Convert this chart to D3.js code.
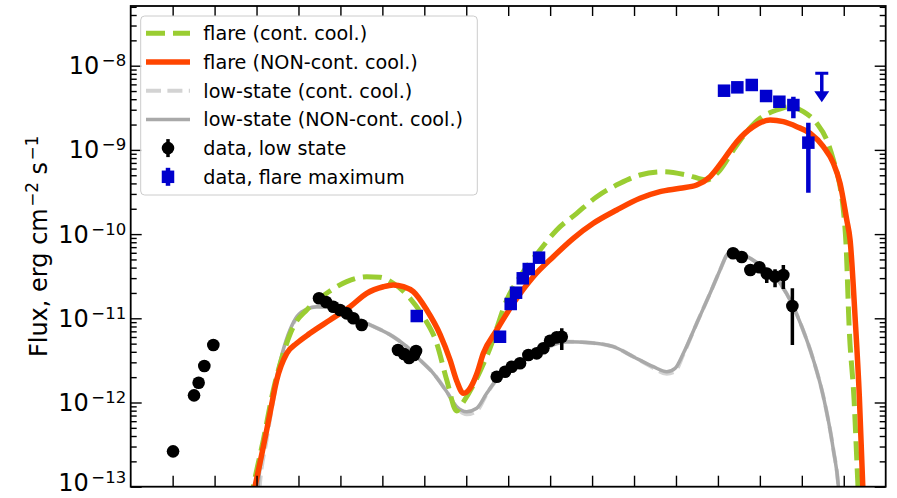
<!DOCTYPE html>
<html>
<head>
<meta charset="utf-8">
<script src="https://cdn.jsdelivr.net/npm/d3@7"></script>
<style>
  body { margin: 0; background: #fff; }
  svg { display: block; }
  text { font-family: "DejaVu Sans", sans-serif; fill: #000; }
</style>
</head>
<body>
<svg id="chart" width="897" height="498"></svg>
<script>
// Broadband SED: frequency as log10(nu / Hz), flux as log10(nu F_nu / erg cm^-2 s^-1)

// Model: flare, continuous cooling
const flareContNu = [10.85, 10.923, 11.162, 11.40, 11.639, 11.877, 12.196, 12.673, 13.15, 13.627, 13.944, 14.261, 14.66, 14.977, 15.296, 15.535, 15.773, 15.899, 16.169, 16.567, 16.965, 17.282, 17.759, 18.157, 18.634, 19.111, 19.667, 20.143, 20.699, 21.257, 21.734, 22.051, 22.368, 22.688, 23.005, 23.403, 23.72, 24.037, 24.357, 24.595, 24.753, 24.912, 24.991, 25.055, 25.127, 25.246, 25.33, 25.354];
const flareContF  = [-13.2, -13.0, -12.445, -11.852, -11.416, -11.10, -10.901, -10.703, -10.565, -10.506, -10.513, -10.584, -10.762, -10.981, -11.297, -11.733, -12.101, -12.018, -11.792, -11.353, -10.783, -10.506, -10.189, -9.951, -9.753, -9.556, -9.397, -9.298, -9.259, -9.298, -9.357, -9.239, -9.001, -8.784, -8.625, -8.526, -8.487, -8.546, -8.684, -8.882, -9.12, -9.437, -9.714, -10.129, -11.091, -11.97, -12.897, -13.16];

// Model: flare, non-continuous cooling
const flareNonContNu = [10.92, 10.964, 11.162, 11.321, 11.481, 11.72, 11.958, 12.275, 12.752, 13.229, 13.627, 14.023, 14.261, 14.50, 14.738, 15.058, 15.375, 15.613, 15.773, 15.93, 16.09, 16.25, 16.407, 16.727, 17.123, 17.599, 18.076, 18.553, 19.03, 19.588, 20.143, 20.62, 21.097, 21.495, 21.813, 22.13, 22.449, 22.845, 23.243, 23.56, 23.88, 24.197, 24.514, 24.753, 24.912, 25.072, 25.151, 25.27, 25.372, 25.454, 25.48];
const flareNonContF  = [-13.1, -13.0, -12.525, -12.128, -11.733, -11.416, -11.297, -11.178, -11.02, -10.862, -10.703, -10.625, -10.604, -10.625, -10.684, -10.901, -11.19, -11.495, -11.745, -11.891, -11.831, -11.662, -11.416, -11.139, -10.822, -10.506, -10.268, -10.05, -9.872, -9.714, -9.575, -9.496, -9.456, -9.417, -9.318, -9.12, -8.903, -8.724, -8.645, -8.665, -8.724, -8.803, -8.962, -9.159, -9.397, -9.833, -10.07, -10.985, -11.935, -13.0, -13.3];

// Model: low state, continuous cooling
const lowContNu = [11.03, 11.075, 11.24, 11.40, 11.58, 11.77, 11.95, 12.16, 12.435, 12.75, 13.11, 13.627, 14.261, 14.581, 14.898, 15.215, 15.535, 15.773, 16.011, 16.25, 16.488, 16.686, 17.1, 17.521, 18.0, 18.396, 18.951, 19.507, 19.984, 20.461, 20.78, 20.978, 21.176, 21.495, 21.813, 22.051, 22.211, 22.33, 22.6, 23.005, 23.482, 23.799, 23.999, 24.276, 24.514, 24.753, 24.872, 24.91];
const lowContF  = [-13.3, -13.0, -12.445, -11.97, -11.519, -11.198, -10.996, -10.901, -10.862, -10.87, -10.937, -11.059, -11.219, -11.337, -11.495, -11.653, -11.872, -12.06, -12.14, -12.10, -11.9, -11.753, -11.58, -11.44, -11.33, -11.278, -11.29, -11.337, -11.456, -11.59, -11.66, -11.63, -11.43, -11.059, -10.703, -10.426, -10.248, -10.189, -10.24, -10.367, -10.584, -10.862, -11.10, -11.495, -11.931, -12.564, -13.0, -13.28];

// Model: low state, non-continuous cooling
const lowNonContNu = [10.99, 11.035, 11.202, 11.369, 11.56, 11.751, 11.941, 12.156, 12.435, 12.75, 13.11, 13.627, 14.261, 14.581, 14.898, 15.215, 15.535, 15.773, 16.011, 16.25, 16.488, 16.686, 17.1, 17.521, 18.0, 18.396, 18.951, 19.507, 19.984, 20.461, 20.78, 20.978, 21.176, 21.495, 21.813, 22.051, 22.211, 22.33, 22.6, 23.005, 23.482, 23.799, 23.999, 24.276, 24.514, 24.753, 24.872, 24.91];
const lowNonContF  = [-13.3, -13.0, -12.445, -11.97, -11.519, -11.198, -10.996, -10.901, -10.862, -10.87, -10.937, -11.059, -11.219, -11.337, -11.495, -11.653, -11.872, -12.05, -12.109, -12.069, -11.891, -11.753, -11.58, -11.44, -11.33, -11.278, -11.29, -11.337, -11.456, -11.575, -11.634, -11.594, -11.416, -11.059, -10.703, -10.426, -10.248, -10.189, -10.24, -10.367, -10.584, -10.862, -11.10, -11.495, -11.931, -12.564, -13.0, -13.28];

// Observations, low state (radio, IR, optical, X-ray, gamma)
const lowDataNu = [9.01, 9.51, 9.62, 9.755, 9.97,
  12.49, 12.657, 12.83, 12.99, 13.15, 13.307, 13.508,
  14.373, 14.516, 14.636, 14.755, 14.803,
  16.727, 16.925, 17.085, 17.282, 17.48, 17.68, 17.838, 17.998, 18.157, 18.277,
  22.361, 22.568, 22.773, 22.988, 23.164, 23.362, 23.56, 23.775];
const lowDataF = [-12.58, -11.915, -11.765, -11.567, -11.317,
  -10.762, -10.806, -10.862, -10.901, -10.941, -11.0, -11.08,
  -11.376, -11.424, -11.471, -11.436, -11.388,
  -11.694, -11.634, -11.575, -11.534, -11.436, -11.416, -11.356, -11.266, -11.226, -11.219,
  -10.228, -10.272, -10.426, -10.394, -10.468, -10.504, -10.486, -10.854];
const lowDataErrLo = [null, null, null, null, null,
  null, null, null, null, null, null, null,
  null, null, null, null, null,
  null, null, null, null, null, null, null, null, null, -11.376,
  null, null, null, null, -10.58, -10.632, -10.652, -11.317];
const lowDataErrHi = [null, null, null, null, null,
  null, null, null, null, null, null, null,
  null, null, null, null, null,
  null, null, null, null, null, null, null, null, null, -11.119,
  null, null, null, null, -10.426, -10.418, -10.367, -10.644];

// Observations, flare maximum (UV, X-ray, gamma)
const flareDataNu = [14.82, 16.805, 17.06, 17.187, 17.347, 17.49, 17.735, 22.146, 22.463, 22.807, 23.148, 23.465, 23.799, 24.156];
const flareDataF  = [-10.973, -11.219, -10.83, -10.696, -10.525, -10.415, -10.28, -8.297, -8.257, -8.229, -8.36, -8.428, -8.467, -8.914];
const flareDataErrLo = [null, null, null, null, null, null, null, null, null, null, null, null, -8.625, -9.508];
const flareDataErrHi = [null, null, null, null, null, null, null, null, null, null, null, null, -8.368, -8.677];
// Flare upper limit
const flareUlNu = [24.476];
const flareUlF  = [-8.09];

// Axis ticks
const xTickExps = d3.range(9, 26);
const yTickExps = [-13, -12, -11, -10, -9, -8];

const legendLabels = [
  "flare (cont. cool.)",
  "flare (NON-cont. cool.)",
  "low-state (cont. cool.)",
  "low-state (NON-cont. cool.)",
  "data, low state",
  "data, flare maximum"
];

// ---------------------------------------------------------------
const W = 897, H = 498;
const plot = { left: 130.7, right: 885.7, top: 6, bottom: 486.7 };
const COL = {
  green: "#9acd32", orange: "#ff4500", lightgray: "#d3d3d3",
  gray: "#a9a9a9", blue: "#0000cd", black: "#000000"
};

const svg = d3.select("#chart");
const x = d3.scaleLog().domain([1e8, 1e26]).range([plot.left, plot.right]);
const y = d3.scaleLog().domain([1e-13, Math.pow(10, -7.291)]).range([plot.bottom, plot.top]);
const px = v => x(Math.pow(10, v));
const py = v => y(Math.pow(10, v));

svg.append("defs").append("clipPath").attr("id", "plotClip")
  .append("rect")
  .attr("x", plot.left).attr("y", plot.top)
  .attr("width", plot.right - plot.left).attr("height", plot.bottom - plot.top);

const body = svg.append("g").attr("clip-path", "url(#plotClip)");

const line = d3.line().x(d => px(d[0])).y(d => py(d[1])).curve(d3.curveMonotoneX);
const pairs = (nu, f) => nu.map((v, i) => [v, f[i]]);

// model curves (low state underneath, flare on top)
const models = [
  { nu: lowContNu, f: lowContF, color: COL.lightgray, width: 4, dash: "15,6.4" },
  { nu: lowNonContNu, f: lowNonContF, color: COL.gray, width: 3.5, dash: null },
  { nu: flareContNu, f: flareContF, color: COL.green, width: 5, dash: "19,8" },
  { nu: flareNonContNu, f: flareNonContF, color: COL.orange, width: 5.5, dash: null }
];
models.forEach(m => {
  body.append("path")
    .datum(pairs(m.nu, m.f))
    .attr("d", line)
    .attr("fill", "none")
    .attr("stroke", m.color)
    .attr("stroke-width", m.width)
    .attr("stroke-dasharray", m.dash)
    .attr("stroke-linejoin", "round");
});

// low-state data: error bars then circles
const lowPts = lowDataNu.map((v, i) => ({ nu: v, f: lowDataF[i], lo: lowDataErrLo[i], hi: lowDataErrHi[i] }));
body.append("g").selectAll("line").data(lowPts.filter(d => d.lo !== null)).join("line")
  .attr("x1", d => px(d.nu)).attr("x2", d => px(d.nu))
  .attr("y1", d => py(d.lo)).attr("y2", d => py(d.hi))
  .attr("stroke", COL.black).attr("stroke-width", 3.5);
body.append("g").selectAll("circle").data(lowPts).join("circle")
  .attr("cx", d => px(d.nu)).attr("cy", d => py(d.f)).attr("r", 6.3)
  .attr("fill", COL.black);

// flare data: error bars then squares
const flarePts = flareDataNu.map((v, i) => ({ nu: v, f: flareDataF[i], lo: flareDataErrLo[i], hi: flareDataErrHi[i] }));
body.append("g").selectAll("line").data(flarePts.filter(d => d.lo !== null)).join("line")
  .attr("x1", d => px(d.nu)).attr("x2", d => px(d.nu))
  .attr("y1", d => py(d.lo)).attr("y2", d => py(d.hi))
  .attr("stroke", COL.blue).attr("stroke-width", 4.5);
const sq = 12.5;
body.append("g").selectAll("rect").data(flarePts).join("rect")
  .attr("x", d => px(d.nu) - sq / 2).attr("y", d => py(d.f) - sq / 2)
  .attr("width", sq).attr("height", sq)
  .attr("fill", COL.blue);

// upper limit: cap, shaft and downward arrow head
const ul = body.append("g").selectAll("g").data(flareUlNu.map((v, i) => ({ nu: v, f: flareUlF[i] }))).join("g")
  .attr("transform", d => `translate(${px(d.nu)},${py(d.f)})`);
ul.append("line").attr("x1", -6.5).attr("x2", 6.5).attr("y1", 0).attr("y2", 0)
  .attr("stroke", COL.blue).attr("stroke-width", 3);
ul.append("line").attr("x1", 0).attr("x2", 0).attr("y1", 0).attr("y2", 20)
  .attr("stroke", COL.blue).attr("stroke-width", 3.5);
ul.append("path").attr("d", "M-7.5,18 L7.5,18 L0,29 Z").attr("fill", COL.blue);

// ---------------- axes ----------------
const axisStyle = g => {
  g.select(".domain").remove();
  g.selectAll(".tick line").attr("stroke", "#000").attr("stroke-width", 1.4);
};

const xTicks = xTickExps.map(e => Math.pow(10, e));
svg.append("g").attr("transform", `translate(0,${plot.bottom})`)
  .call(d3.axisBottom(x).tickValues(xTicks).tickSizeInner(-11).tickSizeOuter(0).tickFormat(""))
  .call(axisStyle);
svg.append("g").attr("transform", `translate(0,${plot.top})`)
  .call(d3.axisTop(x).tickValues(xTicks).tickSizeInner(-10).tickSizeOuter(0).tickFormat(""))
  .call(axisStyle);

const yMajor = yTickExps.map(e => Math.pow(10, e));
const yMinor = [];
yTickExps.forEach(e => d3.range(2, 10).forEach(k => {
  const v = k * Math.pow(10, e);
  if (v <= y.domain()[1]) yMinor.push(v);
}));

const leftAxis = svg.append("g").attr("transform", `translate(${plot.left},0)`)
  .call(d3.axisLeft(y).tickValues(yMajor).tickSizeInner(-11).tickSizeOuter(0).tickPadding(4.5))
  .call(axisStyle);
leftAxis.selectAll(".tick text").each(function (d) {
  const e = Math.round(Math.log10(d));
  // lowest label sits at the bottom edge; nudge it up so it stays inside the canvas
  const t = d3.select(this).text(null)
    .attr("font-size", 24).attr("font-family", "DejaVu Sans, sans-serif")
    .attr("dy", e === yTickExps[0] ? "0.16em" : "0.33em").attr("fill", "#000");
  t.append("tspan").text("10");
  t.append("tspan").attr("dx", 2.5).attr("dy", -8).attr("font-size", 16.5).text("\u2212" + Math.abs(e));
});
svg.append("g").attr("transform", `translate(${plot.left},0)`)
  .call(d3.axisLeft(y).tickValues(yMinor).tickSizeInner(-6).tickSizeOuter(0).tickFormat(""))
  .call(axisStyle);
svg.append("g").attr("transform", `translate(${plot.right},0)`)
  .call(d3.axisRight(y).tickValues(yMajor).tickSizeInner(-11).tickSizeOuter(0).tickFormat(""))
  .call(axisStyle);
svg.append("g").attr("transform", `translate(${plot.right},0)`)
  .call(d3.axisRight(y).tickValues(yMinor).tickSizeInner(-6).tickSizeOuter(0).tickFormat(""))
  .call(axisStyle);

// frame
svg.append("rect")
  .attr("x", plot.left).attr("y", plot.top)
  .attr("width", plot.right - plot.left).attr("height", plot.bottom - plot.top)
  .attr("fill", "none").attr("stroke", "#000").attr("stroke-width", 1.8);

// y-axis title
const yTitle = svg.append("text")
  .attr("transform", `translate(47,${(plot.top + plot.bottom) / 2}) rotate(-90)`)
  .attr("text-anchor", "middle").attr("font-size", 24);
yTitle.append("tspan").text("Flux, erg cm");
yTitle.append("tspan").attr("dx", 1.5).attr("dy", -9).attr("font-size", 16.8).text("\u22122");
yTitle.append("tspan").attr("dy", 9).text(" s");
yTitle.append("tspan").attr("dx", 1.5).attr("dy", -9).attr("font-size", 16.8).text("\u22121");

// ---------------- legend ----------------
const leg = svg.append("g");
leg.append("rect")
  .attr("x", 140.7).attr("y", 16).attr("width", 336.6).attr("height", 179).attr("rx", 4)
  .attr("fill", "#fff").attr("fill-opacity", 0.8)
  .attr("stroke", "#cccccc").attr("stroke-width", 1);

const rowY = i => 33.3 + i * 28.7;
const handleX0 = 146, handleX1 = 190, handleMid = 168;
const legModels = [models[2], models[3], models[0], models[1]];
legModels.forEach((m, i) => {
  leg.append("line")
    .attr("x1", handleX0).attr("x2", handleX1).attr("y1", rowY(i)).attr("y2", rowY(i))
    .attr("stroke", m.color).attr("stroke-width", m.width)
    .attr("stroke-dasharray", m.dash);
});
// errorbar handles
leg.append("line").attr("x1", handleMid).attr("x2", handleMid)
  .attr("y1", rowY(4) - 9).attr("y2", rowY(4) + 9)
  .attr("stroke", COL.black).attr("stroke-width", 3.5);
leg.append("circle").attr("cx", handleMid).attr("cy", rowY(4)).attr("r", 6.3).attr("fill", COL.black);
leg.append("line").attr("x1", handleMid).attr("x2", handleMid)
  .attr("y1", rowY(5) - 9).attr("y2", rowY(5) + 9)
  .attr("stroke", COL.blue).attr("stroke-width", 4.5);
leg.append("rect").attr("x", handleMid - sq / 2).attr("y", rowY(5) - sq / 2)
  .attr("width", sq).attr("height", sq).attr("fill", COL.blue);

leg.selectAll("text.lab").data(legendLabels).join("text")
  .attr("class", "lab")
  .attr("x", 203.3).attr("y", (d, i) => rowY(i) + 6.8)
  .attr("font-size", 19.2)
  .text(d => d);
</script>
</body>
</html>
